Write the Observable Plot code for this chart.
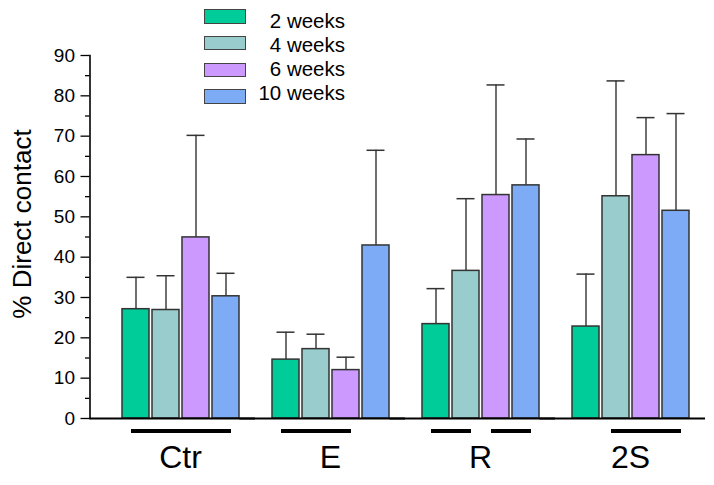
<!DOCTYPE html>
<html>
<head>
<meta charset="utf-8">
<script src="https://cdn.jsdelivr.net/npm/d3@7"></script>
<script src="https://cdn.jsdelivr.net/npm/@observablehq/plot@0.6"></script>
<style>
  html, body { margin: 0; padding: 0; background: #fff; }
  #wrap { position: relative; width: 714px; height: 485px; font-family: Arial, "Liberation Sans", sans-serif; }
  #wrap svg { display: block; }
  .sw { position: absolute; box-sizing: border-box; border: 1.5px solid #444; }
  .lt { position: absolute; font-size: 20.5px; line-height: 20.5px; color: #000; white-space: nowrap; text-align: right; }
  .ylab { position: absolute; left: 22px; top: 224px; font-size: 26px; line-height: 26px; white-space: nowrap; transform: translate(-50%, -50%) rotate(-90deg); color: #000; }
</style>
</head>
<body>
<div id="wrap"></div>
<script>
// ---- data ----
const groups = ["Ctr", "E", "R", "2S"];
const weeks = ["2 weeks", "4 weeks", "6 weeks", "10 weeks"];
const colors = ["#00CC99", "#99CCCC", "#CC99FF", "#7DABF6"];
const yTitle = "% Direct contact";

const meanCtr = [27.1, 26.9, 44.9, 30.3];
const upperCtr = [35.0, 35.4, 70.2, 36.0];
const meanE = [14.6, 17.2, 12.0, 42.9];
const upperE = [21.4, 20.9, 15.2, 66.5];
const meanR = [23.4, 36.6, 55.4, 57.8];
const upperR = [32.2, 54.5, 82.7, 69.3];
const mean2S = [22.8, 55.1, 65.3, 51.5];
const upper2S = [35.8, 83.7, 74.6, 75.6];

const yTicks = [0, 10, 20, 30, 40, 50, 60, 70, 80, 90];
const yMinorTicks = [5, 15, 25, 35, 45, 55, 65, 75, 85];

// significance lines beneath groups (from week to week)
const sigGroup = ["Ctr", "E", "R", "R", "2S"];
const sigFrom = ["2 weeks", "2 weeks", "2 weeks", "6 weeks", "4 weeks"];
const sigTo = ["10 weeks", "6 weeks", "4 weeks", "10 weeks", "10 weeks"];

// ---- tables ----
const means = [meanCtr, meanE, meanR, mean2S];
const uppers = [upperCtr, upperE, upperR, upper2S];
const data = groups.flatMap((g, i) => weeks.map((w, j) => ({group: g, week: w, mean: means[i][j], upper: uppers[i][j]})));
const sig = sigGroup.map((g, i) => ({group: g, from: sigFrom[i], to: sigTo[i]}));

const plot = Plot.plot({
  width: 714,
  height: 485,
  marginLeft: 89,
  marginRight: 9,
  marginTop: 55,
  marginBottom: 67,
  style: {fontFamily: "Arial, 'Liberation Sans', sans-serif", color: "#000", background: "transparent"},
  fx: {domain: groups, paddingInner: 0, paddingOuter: 0.0533, align: 0.969, label: null},
  x: {domain: weeks, paddingInner: 0.1, paddingOuter: 0.55, axis: null},
  y: {domain: [0, 90], label: null},
  color: {domain: weeks, range: colors},
  marks: [
    Plot.ruleX(data, {fx: "group", x: "week", y1: "mean", y2: "upper", stroke: "#222", strokeWidth: 1.3}),
    Plot.tickY(data, {fx: "group", x: "week", y: "upper", stroke: "#333", strokeWidth: 1.5, insetLeft: 4.5, insetRight: 4.5}),
    Plot.barY(data, {fx: "group", x: "week", y: "mean", fill: "week", stroke: "#333", strokeWidth: 1.5}),
    Plot.ruleY([0], {insetLeft: -15.5, stroke: "#000", strokeWidth: 1.8}),
    Plot.ruleY(sig, {fx: "group", x1: "from", x2: "to", y: 0, dy: 12.5, stroke: "#000", strokeWidth: 3.8, insetLeft: 9, insetRight: 8}),
    Plot.frame({anchor: "left", facetAnchor: "left", insetLeft: -15.5, stroke: "#000", strokeWidth: 1.6}),
    Plot.axisY(yTicks, {anchor: "left", tickSize: 9, tickPadding: 6, fontSize: 19, label: null, dx: -15.5, stroke: "#000", strokeWidth: 1.3}),
    Plot.axisY(yMinorTicks, {anchor: "left", tickSize: 4.5, text: null, label: null, dx: -15.5, stroke: "#000", strokeWidth: 1.3}),
    Plot.axisFx({anchor: "bottom", tickSize: 0, tickPadding: 27, fontSize: 32, label: null})
  ]
});

const wrap = document.getElementById("wrap");
wrap.appendChild(plot);

const yl = document.createElement("div");
yl.className = "ylab";
yl.textContent = yTitle;
wrap.appendChild(yl);

// legend overlay
weeks.forEach((w, i) => {
  const sw = document.createElement("div");
  sw.className = "sw";
  sw.style.left = "204px";
  sw.style.top = (9 + 26.8 * i) + "px";
  sw.style.width = "42px";
  sw.style.height = "14.5px";
  sw.style.background = colors[i];
  wrap.appendChild(sw);
  const t = document.createElement("div");
  t.className = "lt";
  t.style.right = (714 - 345) + "px";
  t.style.top = (11 + 24.1 * i) + "px";
  t.textContent = w;
  wrap.appendChild(t);
});
</script>
</body>
</html>
